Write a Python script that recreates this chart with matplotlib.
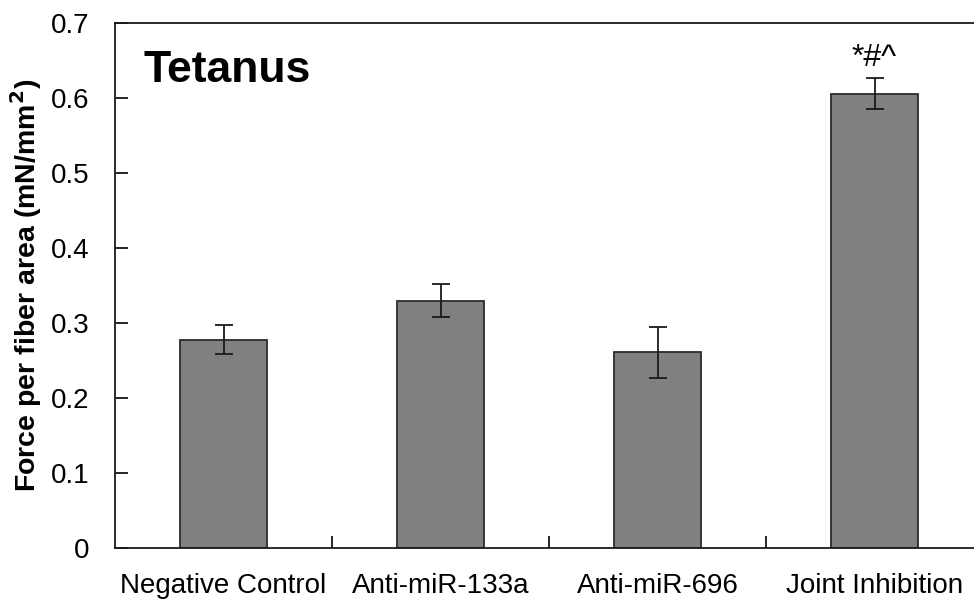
import matplotlib
matplotlib.use("Agg")
import matplotlib.pyplot as plt
from matplotlib.ticker import FixedLocator, FuncFormatter

plt.rcParams['font.family'] = ['Liberation Sans', 'DejaVu Sans']

categories = ["Negative Control", "Anti-miR-133a", "Anti-miR-696", "Joint Inhibition"]
force = [0.278, 0.330, 0.261, 0.606]
force_err = [0.019, 0.022, 0.034, 0.021]
sig_labels = ["", "", "", "*#^"]
y_ticks = [0, 0.1, 0.2, 0.3, 0.4, 0.5, 0.6, 0.7]

W, H = 974, 601
fig = plt.figure(figsize=(W / 100, H / 100), dpi=100)
ax = fig.add_axes([115 / W, (H - 548) / H, (983 - 115) / W, (548 - 23) / H])

x = list(range(len(categories)))
ax.bar(x, force, width=0.405, color="#808080", edgecolor="#2b2b2b", linewidth=1.3, zorder=2)
ax.errorbar(x, force, yerr=force_err, fmt="none", ecolor="#1a1a1a",
            elinewidth=1.3, capsize=6.5, capthick=1.3, zorder=3)

for xi, yi, ei, s in zip(x, force, force_err, sig_labels):
    if s:
        ax.text(xi, yi + ei + 0.047, s, ha="center", va="top", fontsize=23)

ax.set_xlim(-0.5, 3.5)
ax.set_ylim(0, 0.7)

ax.yaxis.set_major_locator(FixedLocator(y_ticks))
ax.yaxis.set_major_formatter(FuncFormatter(lambda v, p: "0" if v == 0 else f"{v:.1f}"))
ax.tick_params(axis="y", direction="in", length=9, width=1.2, labelsize=20, pad=18.5)

ax.set_xticks(x)
ax.set_xticklabels(categories)
ax.tick_params(axis="x", which="major", length=0, labelsize=20, pad=18)
ax.set_xticks([0.5, 1.5, 2.5], minor=True)
ax.tick_params(axis="x", which="minor", direction="in", length=9, width=1.2)

for side in ["left", "bottom", "top", "right"]:
    ax.spines[side].set_linewidth(1.3)
    ax.spines[side].set_color("#1a1a1a")

ax.set_ylabel("Force per fiber area (mN/mm$^\\mathbf{2}$)", fontsize=20.5, fontweight="bold")
ax.yaxis.set_label_coords(-0.082, 0.5)

ax.text(143 / W, (H - 82) / H, "Tetanus", transform=fig.transFigure,
        fontsize=32, fontweight="bold", ha="left", va="baseline")

fig.savefig("out.png", dpi=100)
